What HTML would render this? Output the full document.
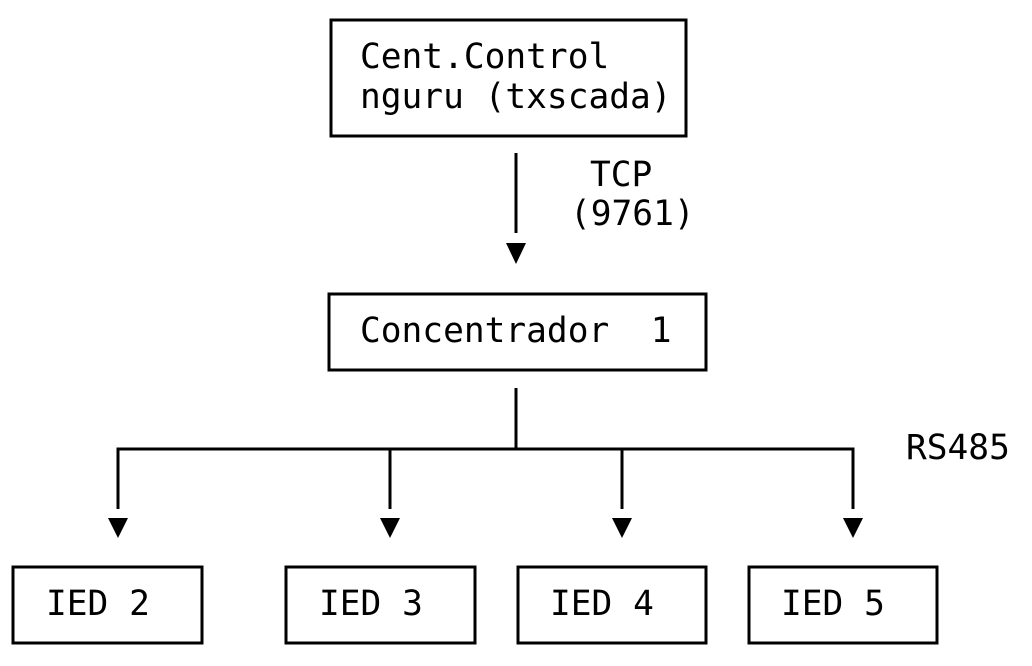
<!DOCTYPE html>
<html><head><meta charset="utf-8"><style>
html,body{margin:0;padding:0;background:#fff;}
svg{display:block}
text{font-family:"DejaVu Sans Mono","Liberation Mono",monospace;font-size:34.5px;fill:#000;white-space:pre}
</style></head><body>
<svg width="1032" height="666" viewBox="0 0 1032 666" xmlns="http://www.w3.org/2000/svg">
<g fill="none" stroke="#000" stroke-width="3">
<rect x="331" y="20" width="355" height="116"/>
<rect x="329" y="294" width="377" height="76"/>
<rect x="13" y="567" width="189" height="76"/>
<rect x="286" y="567" width="189" height="76"/>
<rect x="518" y="567" width="188" height="76"/>
<rect x="749" y="567" width="188" height="76"/>
<line x1="516" y1="153" x2="516" y2="233"/>
<line x1="516" y1="388" x2="516" y2="449"/>
<polyline points="118,509 118,449 853,449 853,509"/>
<line x1="390" y1="449" x2="390" y2="509"/>
<line x1="622" y1="449" x2="622" y2="509"/>
</g>
<g fill="#000">
<polygon points="506,243 526,243 516,264"/>
<polygon points="108,518 128,518 118,538"/>
<polygon points="380,518 400,518 390,538"/>
<polygon points="612,518 632,518 622,538"/>
<polygon points="843,518 863,518 853,538"/>
</g>
<text x="360" y="68">Cent.Control</text>
<text x="360" y="108">nguru (txscada)</text>
<text x="590" y="186">TCP</text>
<text x="570" y="225">(9761)</text>
<text x="360" y="342" xml:space="preserve">Concentrador  1</text>
<text x="906" y="459">RS485</text>
<text x="46" y="615">IED 2</text>
<text x="319" y="615">IED 3</text>
<text x="550" y="615">IED 4</text>
<text x="781" y="615">IED 5</text>
</svg>
</body></html>
